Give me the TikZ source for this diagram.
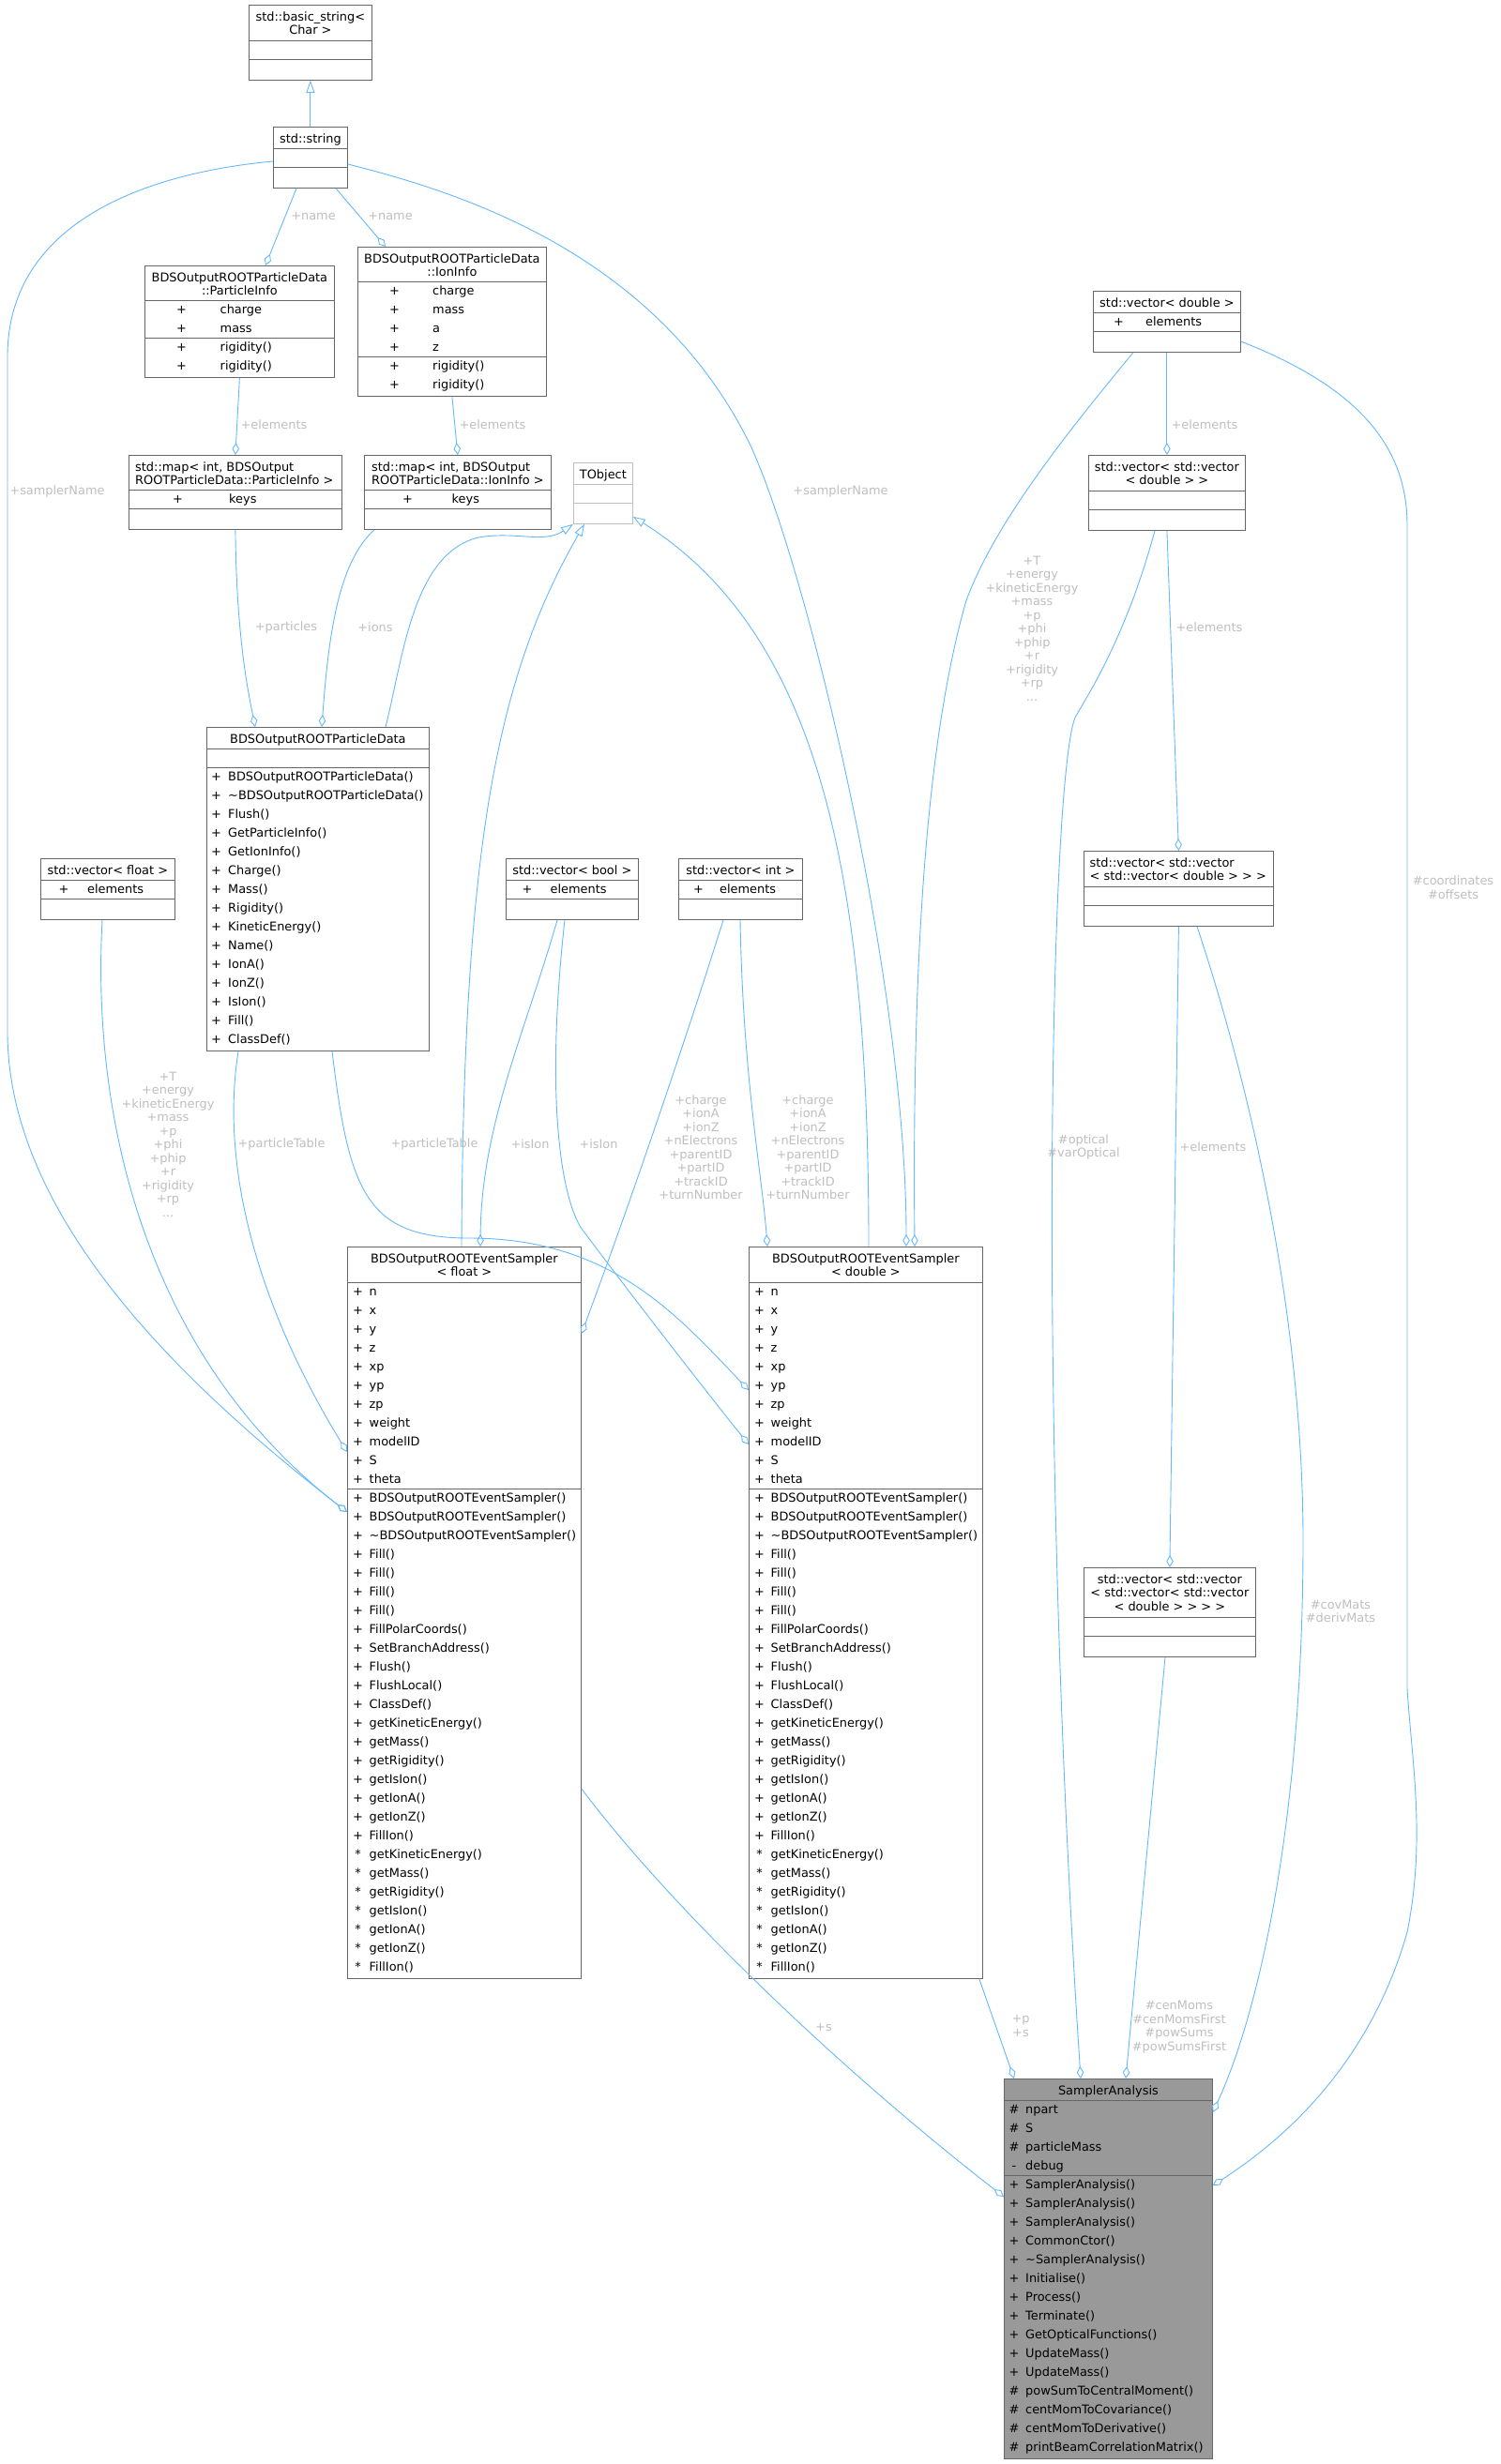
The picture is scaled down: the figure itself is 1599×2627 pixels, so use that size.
\documentclass[tikz,border=0pt]{standalone}
\usepackage{fontspec}
\setmainfont{DejaVu Sans}
\usepackage{tikz}
\definecolor{edgeblue}{RGB}{99,184,255}
\definecolor{clsgray}{RGB}{102,102,102}
\definecolor{nodocgray}{RGB}{191,191,191}
\definecolor{focusgray}{RGB}{153,153,153}
\definecolor{lblgray}{RGB}{190,190,190}
\usetikzlibrary{arrows.meta}
\usetikzlibrary{calc}

\tikzset{
  cls/.style={rectangle, draw=clsgray, line width=0.8pt, fill=white, inner sep=0pt, anchor=north west},
  sep/.style={draw=clsgray, line width=0.8pt},
  ttl/.style={inner sep=0pt, align=center, anchor=north},
  mem/.style={inner sep=0pt, anchor=base west},
  vis/.style={inner sep=0pt, anchor=base},
  lbl/.style={text=lblgray, inner sep=0pt, align=center},
  agg/.style={draw=edgeblue, line width=0.9pt, -{Diamond[open, length=13pt, width=7.5pt]}},
  inh/.style={draw=edgeblue, line width=0.9pt, -{Triangle[open, length=13pt, width=9pt]}}
}

\newcommand{\classbox}[6][]{\node[cls, #1, minimum width=#5pt, minimum height=#6pt] (#2) at (#3,#4) {};}
\newcommand{\hsep}[3][]{\draw[sep, #1] ([yshift=-#3pt]#2.north west) -- ([yshift=-#3pt]#2.north east);}
\newcommand{\ctitle}[2]{\node[ttl] (#1-t) at ([yshift=-7pt]#1.north) {#2};}
\newcommand{\ltitle}[3]{\node[ttl, align=left, anchor=north west] (#1-t) at ([xshift=#2pt, yshift=-7pt]#1.north west) {#3};}
\newcommand{\members}[5]{%
  \foreach \v/\m [count=\k from 0] in #5 {
    \pgfmathsetmacro\yy{#2+20*\k}
    \node[vis] (#1-v\k) at ([xshift=#3pt, yshift=-\yy pt]#1.north west) {\v};
    \node[mem] (#1-m\k) at ([xshift=#4pt, yshift=-\yy pt]#1.north west) {\m};
  }}

\def\samplerattrs{+/n,+/x,+/y,+/z,+/xp,+/yp,+/zp,+/weight,+/modelID,+/S,+/theta}
\def\samplerops{+/BDSOutputROOTEventSampler(),+/BDSOutputROOTEventSampler(),+/\textasciitilde BDSOutputROOTEventSampler(),+/Fill(),+/Fill(),+/Fill(),+/Fill(),+/FillPolarCoords(),+/SetBranchAddress(),+/Flush(),+/FlushLocal(),+/ClassDef(),+/getKineticEnergy(),+/getMass(),+/getRigidity(),+/getIsIon(),+/getIonA(),+/getIonZ(),+/FillIon(),*/getKineticEnergy(),*/getMass(),*/getRigidity(),*/getIsIon(),*/getIonA(),*/getIonZ(),*/FillIon()}

\begin{document}
\begin{tikzpicture}[x=1pt, y=-1pt, every node/.style={font=\fontsize{12.9}{14.5}\selectfont}]
\useasboundingbox (0,0) rectangle (1599,2627);

\classbox{bstring}{265}{5}{131}{80}
\ctitle{bstring}{std::basic\_string<\\Char >}
\hsep{bstring}{38} \hsep{bstring}{58}

\classbox{stdstr}{291}{135}{79}{65}
\ctitle{stdstr}{std::string}
\hsep{stdstr}{23} \hsep{stdstr}{43}

\classbox{pinfo}{154}{283}{202}{119}
\ctitle{pinfo}{BDSOutputROOTParticleData\\::ParticleInfo}
\hsep{pinfo}{37} \hsep{pinfo}{77}
\members{pinfo}{51}{39.5}{80.5}{{+/charge,+/mass}}
\members{pinfo}{91}{39.5}{80.5}{{+/rigidity(),+/rigidity()}}

\classbox{iinfo}{381}{263}{201}{159}
\ctitle{iinfo}{BDSOutputROOTParticleData\\::IonInfo}
\hsep{iinfo}{37} \hsep{iinfo}{117}
\members{iinfo}{51}{39.5}{80}{{+/charge,+/mass,+/a,+/z}}
\members{iinfo}{131}{39.5}{80}{{+/rigidity(),+/rigidity()}}

\classbox{pmap}{137}{485}{227}{79}
\ltitle{pmap}{7}{std::map< int, BDSOutput\\ROOTParticleData::ParticleInfo >}
\hsep{pmap}{37} \hsep{pmap}{57}
\members{pmap}{51}{52.5}{107}{{+/keys}}

\classbox{imap}{388}{485}{199}{79}
\ltitle{imap}{8}{std::map< int, BDSOutput\\ROOTParticleData::IonInfo >}
\hsep{imap}{37} \hsep{imap}{57}
\members{imap}{51}{46.5}{93.5}{{+/keys}}

\classbox[draw=nodocgray]{tobj}{611}{493}{63}{65}
\ctitle{tobj}{TObject}
\hsep[draw=nodocgray]{tobj}{23} \hsep[draw=nodocgray]{tobj}{43}

\classbox{pdata}{220}{775}{237}{345}
\ctitle{pdata}{BDSOutputROOTParticleData}
\hsep{pdata}{23} \hsep{pdata}{43}
\members{pdata}{57}{10.5}{23}{{+/BDSOutputROOTParticleData(),+/\textasciitilde BDSOutputROOTParticleData(),+/Flush(),+/GetParticleInfo(),+/GetIonInfo(),+/Charge(),+/Mass(),+/Rigidity(),+/KineticEnergy(),+/Name(),+/IonA(),+/IonZ(),+/IsIon(),+/Fill(),+/ClassDef()}}

\classbox{vfloat}{43}{915}{143}{65}
\ctitle{vfloat}{std::vector< float >}
\hsep{vfloat}{23} \hsep{vfloat}{43}
\members{vfloat}{37}{25}{50}{{+/elements}}

\classbox{vbool}{539}{915}{141}{65}
\ctitle{vbool}{std::vector< bool >}
\hsep{vbool}{23} \hsep{vbool}{43}
\members{vbool}{37}{23}{47.5}{{+/elements}}

\classbox{vint}{723}{915}{132}{65}
\ctitle{vint}{std::vector< int >}
\hsep{vint}{23} \hsep{vint}{43}
\members{vint}{37}{21.5}{44}{{+/elements}}

\classbox{vdbl}{1165}{310}{157}{65}
\ctitle{vdbl}{std::vector< double >}
\hsep{vdbl}{23} \hsep{vdbl}{43}
\members{vdbl}{37}{27.5}{56}{{+/elements}}

\classbox{vvdbl}{1160}{485}{167}{80}
\ctitle{vvdbl}{std::vector< std::vector\\< double > >}
\hsep{vvdbl}{38} \hsep{vvdbl}{58}

\classbox{vvvdbl}{1155}{907}{202}{80}
\ltitle{vvvdbl}{6.5}{std::vector< std::vector\\< std::vector< double > > >}
\hsep{vvvdbl}{38} \hsep{vvvdbl}{58}

\classbox{vvvvdbl}{1155}{1671}{183}{95}
\ctitle{vvvvdbl}{std::vector< std::vector\\< std::vector< std::vector\\< double > > > >}
\hsep{vvvvdbl}{53} \hsep{vvvvdbl}{73}

\classbox{fsamp}{370}{1329}{249}{780}
\ctitle{fsamp}{BDSOutputROOTEventSampler\\< float >}
\hsep{fsamp}{38} \hsep{fsamp}{258}
\members{fsamp}{52}{11.5}{23.5}{\samplerattrs}
\members{fsamp}{272}{11.5}{23.5}{\samplerops}

\classbox{dsamp}{798}{1329}{249}{780}
\ctitle{dsamp}{BDSOutputROOTEventSampler\\< double >}
\hsep{dsamp}{38} \hsep{dsamp}{258}
\members{dsamp}{52}{11.5}{23.5}{\samplerattrs}
\members{dsamp}{272}{11.5}{23.5}{\samplerops}

\classbox[fill=focusgray]{sana}{1070}{2216}{222}{405}
\ctitle{sana}{SamplerAnalysis}
\hsep{sana}{23} \hsep{sana}{103}
\members{sana}{37}{11}{23}{{\#/npart,\#/S,\#/particleMass,-/debug}}
\members{sana}{117}{11}{23}{{+/SamplerAnalysis(),+/SamplerAnalysis(),+/SamplerAnalysis(),+/CommonCtor(),+/\textasciitilde SamplerAnalysis(),+/Initialise(),+/Process(),+/Terminate(),+/GetOpticalFunctions(),+/UpdateMass(),+/UpdateMass(),\#/powSumToCentralMoment(),\#/centMomToCovariance(),\#/centMomToDerivative(),\#/printBeamCorrelationMatrix()}}

\draw[inh] (stdstr.north) -- (bstring.south);
\draw[inh] ($(pdata.north west)+(191,0)$) .. controls (430,700) and (440,590) .. (510,573) .. controls (550,566) and (580,580) .. (tobj.south west);
\draw[inh] ($(fsamp.north west)+(122,0)$) .. controls (494,900) and (530,720) .. ($(tobj.south west)+(12,0)$);
\draw[inh] ($(dsamp.north west)+(128,0)$) .. controls (926,950) and (880,680) .. ($(tobj.south east)+(0,-8)$);

\draw[agg] ($(stdstr.south west)+(25,0)$) -- ($(pinfo.north west)+(129,0)$);
\draw[agg] ($(stdstr.south west)+(67,0)$) -- ($(iinfo.north west)+(30,0)$);
\draw[agg] ($(stdstr.north west)+(0,37)$) .. controls (150,185) and (8,240) .. (8,380) -- (8,1100) .. controls (8,1300) and (200,1480) .. ($(fsamp.north west)+(0,283)$);
\draw[agg] ($(stdstr.north east)+(0,40)$) .. controls (490,205) and (700,270) .. (800,475) .. controls (862,610) and (966,1050) .. ($(dsamp.north west)+(168,0)$);
\draw[agg] (pinfo.south) -- (pmap.north);
\draw[agg] (iinfo.south) -- (imap.north);
\draw[agg] (pmap.south) .. controls (252,680) and (265,740) .. ($(pdata.north west)+(52,0)$);
\draw[agg] ($(imap.south west)+(11,0)$) .. controls (360,600) and (350,680) .. ($(pdata.north west)+(123,0)$);
\draw[agg] ($(vfloat.south west)+(66,0)$) .. controls (97,1200) and (160,1450) .. ($(fsamp.north west)+(0,283)$);
\draw[agg] ($(pdata.south west)+(34,0)$) .. controls (232,1260) and (287,1413) .. ($(fsamp.north west)+(0,219)$);
\draw[agg] ($(pdata.south west)+(134,0)$) .. controls (372,1270) and (390,1320) .. (500,1320) .. controls (650,1320) and (720,1400) .. ($(dsamp.north west)+(0,153)$);
\draw[agg] ($(vbool.south west)+(55,0)$) .. controls (560,1100) and (513,1200) .. ($(fsamp.north west)+(142,0)$);
\draw[agg] ($(vbool.south west)+(63,0)$) .. controls (580,1180) and (600,1280) .. (620,1310) .. controls (680,1390) and (750,1480) .. ($(dsamp.north west)+(0,211)$);
\draw[agg] ($(vint.south west)+(48,0)$) .. controls (740,1080) and (680,1260) .. ($(fsamp.north east)+(0,93)$);
\draw[agg] ($(vint.south west)+(66,0)$) .. controls (792,1150) and (812,1250) .. ($(dsamp.north west)+(20,0)$);
\draw[agg] ($(vdbl.south west)+(43,0)$) .. controls (1130,470) and (1060,560) .. (1030,640) .. controls (990,780) and (972,1000) .. ($(dsamp.north west)+(177,0)$);
\draw[agg] (vdbl.south) -- (vvdbl.north);
\draw[agg] (vvdbl.south) -- (vvvdbl.north);
\draw[agg] (vvvdbl.south) -- (vvvvdbl.north);
\draw[agg] ($(vvdbl.south west)+(71,0)$) .. controls (1200,680) and (1160,740) .. (1146,765) .. controls (1120,830) and (1105,1500) .. ($(sana.north west)+(82,0)$);
\draw[agg] ($(vvvdbl.south west)+(121,0)$) .. controls (1330,1150) and (1390,1400) .. (1389,1650) .. controls (1388,1950) and (1340,2150) .. ($(sana.north east)+(0,36)$);
\draw[agg] ($(vdbl.north east)+(0,54)$) .. controls (1440,410) and (1500,470) .. (1500,560) -- (1500,1800) .. controls (1505,1880) and (1520,1960) .. (1500,2060) .. controls (1460,2200) and (1370,2280) .. ($(sana.north east)+(0,114)$);
\draw[agg] ($(vvvvdbl.south west)+(87,0)$) -- ($(sana.north west)+(130,0)$);
\draw[agg] ($(dsamp.south east)+(-4,0)$) -- ($(sana.north west)+(11,0)$);
\draw[agg] ($(fsamp.north east)+(0,578)$) .. controls (720,2040) and (900,2210) .. ($(sana.north west)+(0,126)$);

\node[lbl] (lb-name1) at (334,231) {+name};
\node[lbl] (lb-name2) at (416,231) {+name};
\node[lbl] (lb-sname1) at (61,524) {+samplerName};
\node[lbl] (lb-sname2) at (896,524) {+samplerName};
\node[lbl] (lb-pel) at (292,453) {+elements};
\node[lbl] (lb-iel) at (525,453) {+elements};
\node[lbl] (lb-vel) at (1284,453) {+elements};
\node[lbl] (lb-vvel) at (1289,669) {+elements};
\node[lbl] (lb-vvvel) at (1293,1223) {+elements};
\node[lbl] (lb-parts) at (305,669) {+particles};
\node[lbl] (lb-ions) at (400,669) {+ions};
\node[lbl] (lb-fkin) at (179,1220) {+T\\+energy\\+kineticEnergy\\+mass\\+p\\+phi\\+phip\\+r\\+rigidity\\+rp\\...};
\node[lbl] (lb-dkin) at (1100,670) {+T\\+energy\\+kineticEnergy\\+mass\\+p\\+phi\\+phip\\+r\\+rigidity\\+rp\\...};
\node[lbl] (lb-ptab1) at (300,1220) {+particleTable};
\node[lbl] (lb-ptab2) at (463,1220) {+particleTable};
\node[lbl] (lb-ision1) at (565,1220) {+isIon};
\node[lbl] (lb-ision2) at (638,1220) {+isIon};
\node[lbl] (lb-fion) at (747,1223) {+charge\\+ionA\\+ionZ\\+nElectrons\\+parentID\\+partID\\+trackID\\+turnNumber};
\node[lbl] (lb-dion) at (861,1223) {+charge\\+ionA\\+ionZ\\+nElectrons\\+parentID\\+partID\\+trackID\\+turnNumber};
\node[lbl] (lb-optic) at (1155,1223) {\#optical\\\#varOptical};
\node[lbl] (lb-coord) at (1549,946) {\#coordinates\\\#offsets};
\node[lbl] (lb-cov) at (1429,1718) {\#covMats\\\#derivMats};
\node[lbl] (lb-mom) at (1257,2161) {\#cenMoms\\\#cenMomsFirst\\\#powSums\\\#powSumsFirst};
\node[lbl] (lb-ps) at (1088,2160) {+p\\+s};
\node[lbl] (lb-s) at (878,2162) {+s};
\end{tikzpicture}
\end{document}
